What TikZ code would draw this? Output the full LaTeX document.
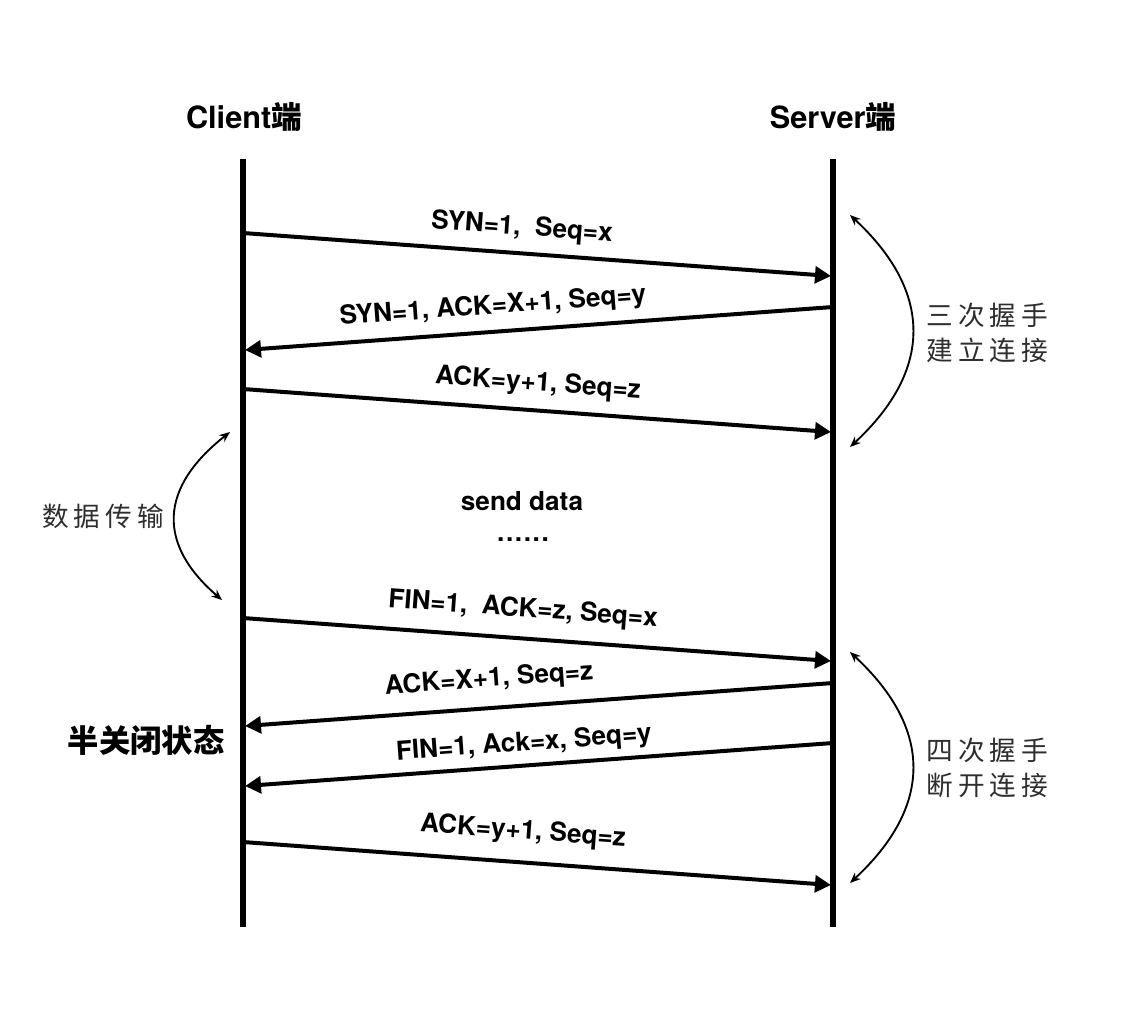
\documentclass[tikz,border=0pt]{standalone}
\usepackage{fontspec}
\setmainfont{TeX Gyre Heros}
\newfontfamily\cjk{Noto Sans CJK SC}
\usetikzlibrary{arrows.meta}
\newcommand\gapk{\kern3.8pt}
\begin{document}
\begin{tikzpicture}[x=0.75pt,y=-0.75pt,
  life/.style={line width=4.8pt},
  msg/.style={line width=3pt,-{Triangle[length=12pt,width=12.5pt]}},
  lbl/.style={font=\fontsize{19.6}{22}\selectfont\bfseries, inner sep=0pt},
  head/.style={font=\fontsize{23}{26}\selectfont\bfseries, inner sep=0pt},
  cn/.style={font=\fontsize{20}{26.25}\selectfont\cjk, text=black!82, align=left, inner sep=0pt},
  phase/.style={line width=1.4pt,{Stealth[length=8pt,width=6.5pt]}-{Stealth[length=8pt,width=6.5pt]}}
]
\useasboundingbox (0,0) rectangle (1146,1022);
\fill[white] (0,0) rectangle (1146,1022);

% headers
\node[head] (client) at (244,117) {Client{\cjk 端}};
\node[head] (server) at (833,117) {Server{\cjk 端}};

% lifelines
\coordinate (ct) at (243,159); \coordinate (cb) at (243,927);
\coordinate (st) at (833,159); \coordinate (sb) at (833,927);
\draw[life] (ct) -- (cb);
\draw[life] (st) -- (sb);

% message end points
\coordinate (m1s) at (243,233); \coordinate (m1e) at (831,276);
\coordinate (m2s) at (833,307); \coordinate (m2e) at (245,350);
\coordinate (m3s) at (243,389); \coordinate (m3e) at (831,432);
\coordinate (m4s) at (243,618); \coordinate (m4e) at (831,661);
\coordinate (m5s) at (833,683); \coordinate (m5e) at (245,726);
\coordinate (m6s) at (833,743); \coordinate (m6e) at (245,786);
\coordinate (m7s) at (243,842); \coordinate (m7e) at (831,885);

\draw[msg] (m1s) -- (m1e);
\draw[msg] (m2s) -- (m2e);
\draw[msg] (m3s) -- (m3e);
\draw[msg] (m4s) -- (m4e);
\draw[msg] (m5s) -- (m5e);
\draw[msg] (m6s) -- (m6e);
\draw[msg] (m7s) -- (m7e);

% message labels
\node[lbl, rotate=-4.17] (l1) at (522,228) {SYN=1,\ \ Seq=x};
\node[lbl, rotate=4.17]  (l2) at (493,307) {SYN=1, ACK=X+1, Seq=y};
\node[lbl, rotate=-4.17] (l3) at (538,384) {ACK=y+1, Seq=z};
\node[lbl] (sd) at (522,501) {send data};
\node[lbl] (dots) at (523,540) {.\kern1.2pt.\kern1.2pt.\kern1.2pt.\kern1.2pt.\kern1.2pt.};
\node[lbl, rotate=-4.17] (l4) at (523,610) {FIN=1,\ \ ACK=z, Seq=x};
\node[lbl, rotate=4.17]  (l5) at (489,680) {ACK=X+1, Seq=z};
\node[lbl, rotate=4.17]  (l6) at (524,744) {FIN=1, Ack=x, Seq=y};
\node[lbl, rotate=-4.17] (l7) at (523,832) {ACK=y+1, Seq=z};

% half-closed state
\node[font=\fontsize{23.5}{26}\selectfont\cjk\bfseries, inner sep=0pt] (half) at (146,740) {半关闭状态};

% phase labels
\node[cn, anchor=west] (hs3) at (926,333) {三\gapk 次\gapk 握\gapk 手\\建\gapk 立\gapk 连\gapk 接};
\node[cn, anchor=west] (hs4) at (926,768) {四\gapk 次\gapk 握\gapk 手\\断\gapk 开\gapk 连\gapk 接};
\node[cn] (data) at (103,516) {数\gapk 据\gapk 传\gapk 输};

% phase arcs
\coordinate (r1a) at (850,215); \coordinate (r1b) at (850,447);
\coordinate (r2a) at (850,652); \coordinate (r2b) at (850,883);
\coordinate (d1a) at (230,432); \coordinate (d1b) at (222,600);
\draw[phase] (r1a) .. controls (933,292) and (933,370) .. (r1b);
\draw[phase] (r2a) .. controls (933,729) and (933,806) .. (r2b);
\draw[phase] (d1a) .. controls (159,488) and (157,544) .. (d1b);
\end{tikzpicture}
\end{document}
